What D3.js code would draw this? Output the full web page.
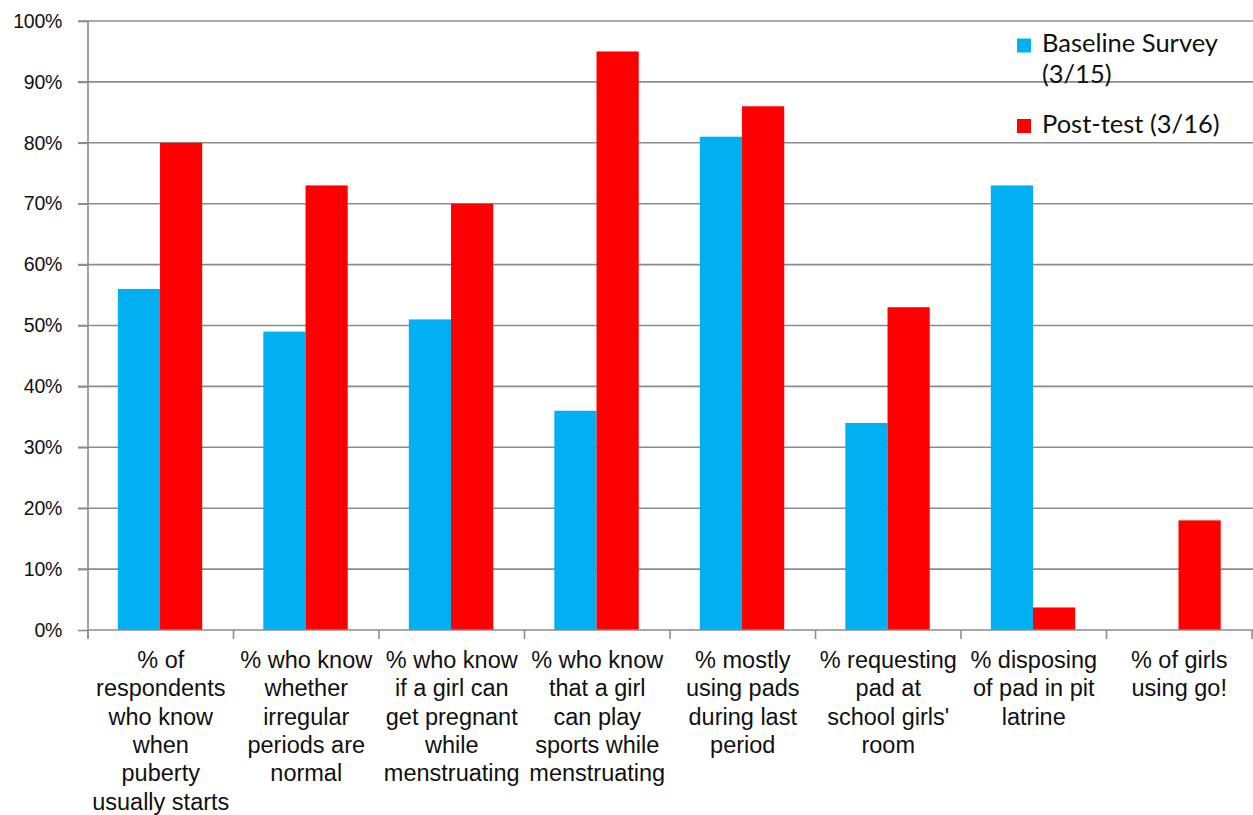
<!DOCTYPE html>
<html><head><meta charset="utf-8">
<script src="https://cdn.jsdelivr.net/npm/d3@7"></script>
<style>body{margin:0;background:#fff}svg{display:block}</style>
</head><body>
<svg id="chart" width="1253" height="815"></svg>
<script>
const categories = [
  ["% of","respondents","who know","when","puberty","usually starts"],
  ["% who know","whether","irregular","periods are","normal"],
  ["% who know","if a girl can","get pregnant","while","menstruating"],
  ["% who know","that a girl","can play","sports while","menstruating"],
  ["% mostly","using pads","during last","period"],
  ["% requesting","pad at","school girls'","room"],
  ["% disposing","of pad in pit","latrine"],
  ["% of girls","using go!"]
];
const seriesNames = ["Baseline Survey (3/15)", "Post-test (3/16)"];
const legendLines = [["Baseline Survey","(3/15)"],["Post-test (3/16)"]];
const baseline = [56, 49, 51, 36, 81, 34, 73, 0];
const posttest = [80, 73, 70, 95, 86, 53, 3.7, 18];
const yTicks = [0,10,20,30,40,50,60,70,80,90,100];
const colors = ["#00b0f0", "#ff0000"];

const svg = d3.select("#chart");
const m = {left: 88, right: 1, top: 21, bottom: 185};
const W = 1253, H = 815;
const idx = categories.map((d,i)=>i);
const x0 = d3.scaleBand().domain(idx).range([m.left, W - m.right]).padding(0);
const bw = x0.bandwidth();
const x1 = d3.scaleBand().domain([0,1]).range([bw*0.205, bw*0.785]).padding(0);
const y = d3.scaleLinear().domain([0,100]).range([H - m.bottom, m.top]);
const gridColor = "#8c8c8c";

// gridlines
svg.append("g").selectAll("line").data(yTicks.filter(t=>t>0)).join("line")
  .attr("x1", m.left - 10).attr("x2", W)
  .attr("y1", d=>y(d)).attr("y2", d=>y(d))
  .attr("stroke", gridColor).attr("stroke-width", 1.6);

// bars
const series = [baseline, posttest];
const g = svg.append("g");
series.forEach((vals, s) => {
  g.selectAll(".b"+s).data(vals).join("rect")
    .attr("x", (d,i)=>x0(i) + x1(s))
    .attr("width", x1.bandwidth())
    .attr("y", d=>y(d))
    .attr("height", d=>y(0) - y(d))
    .attr("fill", colors[s]);
});

// y axis
const yAxis = d3.axisLeft(y).tickValues(yTicks).tickFormat(d=>d+"%").tickSize(10).tickPadding(16);
const ya = svg.append("g").attr("transform", `translate(${m.left},0)`).call(yAxis);
ya.select(".domain").attr("stroke", gridColor).attr("stroke-width", 1.6).attr("d", `M0,${y(100)}V${y(0)+8}`);
ya.selectAll(".tick line").attr("stroke", gridColor).attr("stroke-width", 1.6);
ya.selectAll(".tick text").attr("font-family", "Liberation Sans, Arial, sans-serif")
  .attr("font-size", 19.5).attr("fill", "#111").attr("letter-spacing", -0.3);

// x axis
const xTickScale = d3.scaleLinear().domain([0, categories.length]).range([m.left, W - m.right]);
const xa = svg.append("g").attr("transform", `translate(0,${y(0)})`);
xa.append("line").attr("x1", m.left).attr("x2", W).attr("stroke", gridColor).attr("stroke-width", 1.6);
xa.selectAll(".xt").data(d3.range(categories.length + 1)).join("line")
  .attr("x1", d=>xTickScale(d)).attr("x2", d=>xTickScale(d))
  .attr("y1", 0).attr("y2", 9).attr("stroke", gridColor).attr("stroke-width", 1.6);

// category labels
const lab = svg.append("g").attr("font-family", "Liberation Sans, Arial, sans-serif")
  .attr("font-size", 23.5).attr("fill", "#111").attr("text-anchor", "middle");
categories.forEach((lines, i) => {
  const t = lab.append("text").attr("x", x0(i) + bw/2).attr("y", y(0) + 38);
  lines.forEach((ln, k) => {
    t.append("tspan").attr("x", x0(i) + bw/2).attr("dy", k === 0 ? 0 : 28.3).text(ln);
  });
});

// legend
const lg = svg.append("g").attr("font-family", "Lato, 'Open Sans', sans-serif").attr("font-size", 25.5).attr("fill", "#111");
const legendY = [45.5, 126];
legendLines.forEach((lines, s) => {
  lg.append("rect").attr("x", 1017).attr("y", legendY[s] - 7).attr("width", 14).attr("height", 14).attr("fill", colors[s]);
  const t = lg.append("text").attr("x", 1042).attr("y", legendY[s] + 6.5);
  lines.forEach((ln, k) => t.append("tspan").attr("x", 1042).attr("dy", k === 0 ? 0 : 31).text(ln));
});
</script>
</body></html>
